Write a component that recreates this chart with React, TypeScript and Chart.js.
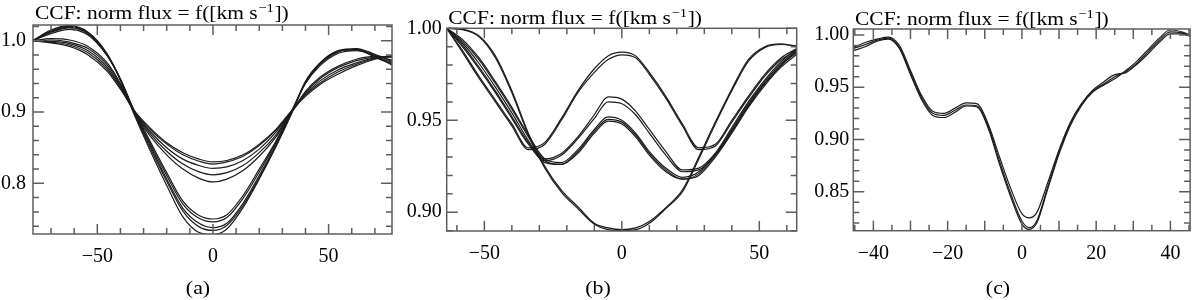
import { useEffect, useRef } from 'react';
import { Chart, registerables } from 'chart.js';

Chart.register(...registerables);

const SERIF = '"Liberation Serif", "Times New Roman", Times, serif';
const TITLE_MAIN = 'CCF: norm flux = f([km s';
const TITLE_SUP = '\u22121';
const TITLE_END = '])';

// ---------- Panel (a) ----------
const velA = [-78, -70, -62, -54, -46, -40, -34, -27, -20, -13, -6, 0, 6, 13, 20, 27, 34, 40, 46, 54, 62, 70, 78];
const a1 = [1.0, 1.01, 1.016, 1.008, 0.98, 0.946, 0.902, 0.858, 0.815, 0.775, 0.755, 0.75, 0.756, 0.783, 0.82, 0.858, 0.902, 0.94, 0.964, 0.982, 0.986, 0.98, 0.972];
const a2 = [1.0, 1.012, 1.018, 1.01, 0.981, 0.946, 0.9, 0.855, 0.811, 0.771, 0.751, 0.746, 0.752, 0.779, 0.816, 0.856, 0.9, 0.941, 0.966, 0.984, 0.988, 0.979, 0.968];
const a3 = [1.0, 1.014, 1.02, 1.011, 0.982, 0.946, 0.899, 0.852, 0.806, 0.765, 0.744, 0.738, 0.744, 0.772, 0.811, 0.853, 0.899, 0.941, 0.967, 0.985, 0.988, 0.978, 0.965];
const a4 = [1.0, 1.013, 1.019, 1.01, 0.981, 0.945, 0.898, 0.849, 0.803, 0.761, 0.739, 0.734, 0.741, 0.769, 0.808, 0.851, 0.899, 0.943, 0.968, 0.986, 0.989, 0.981, 0.97];
const a5 = [1.0, 1.015, 1.021, 1.012, 0.983, 0.945, 0.896, 0.845, 0.797, 0.753, 0.731, 0.728, 0.736, 0.766, 0.806, 0.85, 0.898, 0.942, 0.967, 0.985, 0.987, 0.977, 0.966];
const a6 = [1.0, 0.997, 0.992, 0.98, 0.958, 0.932, 0.902, 0.877, 0.857, 0.843, 0.834, 0.83, 0.832, 0.84, 0.855, 0.875, 0.902, 0.922, 0.938, 0.953, 0.965, 0.974, 0.979];
const a7 = [1.0, 0.998, 0.994, 0.983, 0.961, 0.934, 0.901, 0.875, 0.855, 0.84, 0.831, 0.827, 0.83, 0.838, 0.853, 0.874, 0.901, 0.924, 0.94, 0.956, 0.967, 0.975, 0.978];
const a8 = [1.0, 0.999, 0.996, 0.986, 0.964, 0.936, 0.9, 0.872, 0.85, 0.834, 0.825, 0.821, 0.823, 0.832, 0.848, 0.871, 0.9, 0.925, 0.943, 0.959, 0.969, 0.976, 0.979];
const a9 = [1.0, 1.001, 0.998, 0.989, 0.967, 0.938, 0.9, 0.869, 0.845, 0.827, 0.816, 0.812, 0.815, 0.825, 0.843, 0.867, 0.9, 0.927, 0.946, 0.962, 0.972, 0.977, 0.978];
const a10 = [1.0, 1.003, 1.001, 0.992, 0.97, 0.94, 0.899, 0.866, 0.84, 0.82, 0.807, 0.802, 0.806, 0.818, 0.838, 0.864, 0.9, 0.929, 0.948, 0.964, 0.974, 0.978, 0.977];
const ticksXA = [-70, -60, -50, -40, -30, -20, -10, 0, 10, 20, 30, 40, 50, 60, 70];
const majorXA = [-50, 0, 50];
const labelXA = [-50, 0, 50];
const ticksYA = [0.74, 0.76, 0.78, 0.8, 0.82, 0.84, 0.86, 0.88, 0.9, 0.92, 0.94, 0.96, 0.98, 1.0, 1.02];
const majorYA = [0.8, 0.9, 1.0];
const labelYA = [0.8, 0.9, 1.0];

// ---------- Panel (b) ----------
const velB = [-63.7, -58, -52, -46, -40, -34, -28, -22, -16, -10, -5, 0, 5, 10, 16, 22, 28, 34, 40, 46, 52, 58, 63.7];
const b1 = [1.0, 0.9995, 0.996, 0.985, 0.966, 0.943, 0.925, 0.912, 0.903, 0.894, 0.8915, 0.8905, 0.8915, 0.895, 0.9025, 0.912, 0.93, 0.949, 0.967, 0.983, 0.99, 0.9915, 0.99];
const b2 = [1.0, 0.9993, 0.9955, 0.984, 0.965, 0.942, 0.924, 0.911, 0.902, 0.8935, 0.8905, 0.89, 0.8905, 0.894, 0.902, 0.911, 0.929, 0.948, 0.966, 0.982, 0.9895, 0.9912, 0.9905];
const b3 = [1.0, 0.988, 0.974, 0.961, 0.948, 0.935, 0.938, 0.951, 0.966, 0.978, 0.985, 0.987, 0.985, 0.976, 0.963, 0.948, 0.935, 0.937, 0.95, 0.963, 0.975, 0.984, 0.989];
const b4 = [1.0, 0.987, 0.973, 0.96, 0.947, 0.934, 0.937, 0.95, 0.965, 0.976, 0.983, 0.9856, 0.984, 0.975, 0.962, 0.947, 0.934, 0.936, 0.949, 0.962, 0.974, 0.983, 0.988];
const b5 = [1.0, 0.991, 0.979, 0.966, 0.952, 0.938, 0.929, 0.932, 0.941, 0.953, 0.9627, 0.9615, 0.955, 0.945, 0.933, 0.923, 0.924, 0.932, 0.945, 0.959, 0.971, 0.981, 0.988];
const b6 = [1.0, 0.99, 0.978, 0.965, 0.951, 0.937, 0.928, 0.931, 0.94, 0.951, 0.96, 0.959, 0.953, 0.943, 0.931, 0.922, 0.923, 0.931, 0.944, 0.958, 0.97, 0.98, 0.987];
const b7 = [1.0, 0.994, 0.984, 0.971, 0.957, 0.942, 0.929, 0.927, 0.934, 0.945, 0.9518, 0.95, 0.943, 0.933, 0.924, 0.919, 0.922, 0.932, 0.946, 0.96, 0.972, 0.982, 0.989];
const b8 = [1.0, 0.993, 0.983, 0.97, 0.956, 0.941, 0.928, 0.926, 0.933, 0.944, 0.9505, 0.949, 0.942, 0.932, 0.923, 0.918, 0.921, 0.931, 0.944, 0.958, 0.97, 0.98, 0.988];
const b9 = [1.0, 0.992, 0.981, 0.968, 0.954, 0.939, 0.927, 0.926, 0.932, 0.943, 0.9495, 0.948, 0.941, 0.931, 0.922, 0.918, 0.92, 0.93, 0.943, 0.957, 0.969, 0.979, 0.986];
const ticksXB = [-60, -50, -40, -30, -20, -10, 0, 10, 20, 30, 40, 50, 60];
const majorXB = [-50, 0, 50];
const labelXB = [-50, 0, 50];
const ticksYB = [0.89, 0.9, 0.91, 0.92, 0.93, 0.94, 0.95, 0.96, 0.97, 0.98, 0.99, 1.0];
const majorYB = [0.9, 0.95, 1.0];
const labelYB = [0.9, 0.95, 1.0];

// ---------- Panel (c) ----------
const velC = [-45.4, -42, -39, -36, -33, -30, -27, -24, -21, -18, -15, -12, -9, -6, -3, 0, 2, 4, 7, 10, 13, 16, 19, 22, 25, 28, 31, 34, 37, 40, 43, 45.3];
const c1 = [0.987, 0.991, 0.995, 0.997, 0.988, 0.964, 0.94, 0.925, 0.923, 0.928, 0.933, 0.932, 0.912, 0.879, 0.848, 0.822, 0.8156, 0.822, 0.855, 0.888, 0.915, 0.933, 0.946, 0.953, 0.96, 0.965, 0.973, 0.984, 0.995, 1.003, 1.002, 0.999];
const c2 = [0.985, 0.989, 0.994, 0.996, 0.987, 0.962, 0.938, 0.923, 0.921, 0.926, 0.932, 0.931, 0.91, 0.876, 0.845, 0.819, 0.814, 0.82, 0.853, 0.886, 0.913, 0.932, 0.945, 0.952, 0.958, 0.966, 0.975, 0.986, 0.997, 1.005, 1.003, 1.0];
const c3 = [0.988, 0.993, 0.996, 0.998, 0.99, 0.966, 0.942, 0.927, 0.925, 0.93, 0.935, 0.934, 0.914, 0.883, 0.853, 0.829, 0.825, 0.83, 0.859, 0.89, 0.916, 0.934, 0.947, 0.955, 0.962, 0.964, 0.972, 0.982, 0.993, 1.001, 1.001, 0.999];
const ticksXC = [-45, -40, -35, -30, -25, -20, -15, -10, -5, 0, 5, 10, 15, 20, 25, 30, 35, 40, 45];
const majorXC = [-40, -30, -20, -10, 0, 10, 20, 30, 40];
const labelXC = [-40, -20, 0, 20, 40];
const ticksYC = [0.82, 0.83, 0.84, 0.85, 0.86, 0.87, 0.88, 0.89, 0.9, 0.91, 0.92, 0.93, 0.94, 0.95, 0.96, 0.97, 0.98, 0.99, 1.0];
const majorYC = [0.85, 0.9, 0.95, 1.0];
const labelYC = [0.85, 0.9, 0.95, 1.0];

type PanelCfg = {
  left: number;
  caption: string;
  vel: number[];
  series: number[][];
  xMin: number; xMax: number; yMin: number; yMax: number;
  xTicks: number[]; xMajor: number[]; xLabels: number[];
  yTicks: number[]; yMajor: number[]; yLabels: number[];
  yDecimals: number;
  axisW: number; axisH: number; padTop: number; padRight: number;
  yPad: number; xPad: number;
  titleX: number; titleY: number;
};

const panels: PanelCfg[] = [
  {
    left: 0, caption: '(a)', vel: velA, series: [a1, a2, a3, a4, a5, a6, a7, a8, a9, a10],
    xMin: -77.8, xMax: 77.4, yMin: 0.729, yMax: 1.022,
    xTicks: ticksXA, xMajor: majorXA, xLabels: labelXA,
    yTicks: ticksYA, yMajor: majorYA, yLabels: labelYA, yDecimals: 1,
    axisW: 33, axisH: 66, padTop: 25, padRight: 8, yPad: 7, xPad: 11,
    titleX: 35, titleY: 18.5,
  },
  {
    left: 400, caption: '(b)', vel: velB, series: [b1, b2, b3, b4, b5, b6, b7, b8, b9],
    xMin: -63.7, xMax: 63.6, yMin: 0.8898, yMax: 1.0,
    xTicks: ticksXB, xMajor: majorXB, xLabels: labelXB,
    yTicks: ticksYB, yMajor: majorYB, yLabels: labelYB, yDecimals: 2,
    axisW: 46.7, axisH: 69, padTop: 28.3, padRight: 3.3, yPad: 5, xPad: 11,
    titleX: 48.3, titleY: 24,
  },
  {
    left: 800, caption: '(c)', vel: velC, series: [c1, c2, c3],
    xMin: -45.4, xMax: 45.3, yMin: 0.8127, yMax: 1.0057,
    xTicks: ticksXC, xMajor: majorXC, xLabels: labelXC,
    yTicks: ticksYC, yMajor: majorYC, yLabels: labelYC, yDecimals: 2,
    axisW: 53.3, axisH: 69.3, padTop: 29, padRight: 1.7, yPad: 4, xPad: 11,
    titleX: 55, titleY: 25,
  },
];

const has = (list: number[], v: number) => list.some((m) => Math.abs(m - v) < 1e-7);
const fmtX = (v: number) => (v === 0 ? '0' : v < 0 ? '\u2212' + Math.abs(v) : String(v));

function Panel({ cfg }: { cfg: PanelCfg }) {
  const ref = useRef<HTMLCanvasElement | null>(null);
  useEffect(() => {
    if (!ref.current) return;
    const decor = {
      id: 'decor',
      afterDraw(chart: any) {
        const { ctx, chartArea: ca, scales } = chart;
        ctx.save();
        ctx.strokeStyle = '#5e5e5e';
        ctx.lineWidth = 1.5;
        ctx.beginPath();
        for (const t of scales.x.ticks) {
          const px = scales.x.getPixelForValue(t.value);
          const len = has(cfg.xMajor, t.value) ? 10 : 6;
          ctx.moveTo(px, ca.bottom);
          ctx.lineTo(px, ca.bottom - len);
          ctx.moveTo(px, ca.top);
          ctx.lineTo(px, ca.top + len);
        }
        for (const t of scales.y.ticks) {
          const py = scales.y.getPixelForValue(t.value);
          const len = has(cfg.yMajor, t.value) ? 11 : 6;
          ctx.moveTo(ca.left, py);
          ctx.lineTo(ca.left + len, py);
          ctx.moveTo(ca.right, py);
          ctx.lineTo(ca.right - len, py);
        }
        ctx.stroke();
        ctx.strokeRect(ca.left, ca.top, ca.right - ca.left, ca.bottom - ca.top);
        ctx.restore();

        // title with superscript
        ctx.save();
        ctx.fillStyle = '#000';
        ctx.textAlign = 'left';
        ctx.textBaseline = 'alphabetic';
        ctx.translate(cfg.titleX, cfg.titleY);
        ctx.scale(1.13, 1);
        ctx.font = `19px ${SERIF}`;
        ctx.fillText(TITLE_MAIN, 0, 0);
        let w = ctx.measureText(TITLE_MAIN).width + 0.5;
        ctx.font = `13px ${SERIF}`;
        ctx.fillText(TITLE_SUP, w, -7);
        w += ctx.measureText(TITLE_SUP).width + 0.5;
        ctx.font = `19px ${SERIF}`;
        ctx.fillText(TITLE_END, w, 0);
        ctx.restore();

        // caption
        ctx.save();
        ctx.fillStyle = '#000';
        ctx.textAlign = 'center';
        ctx.textBaseline = 'alphabetic';
        ctx.translate(chart.width / 2 - 2, 294);
        ctx.scale(1.15, 1);
        ctx.font = `19px ${SERIF}`;
        ctx.fillText(cfg.caption, 0, 0);
        ctx.restore();
      },
    };

    const chart = new Chart(ref.current, {
      type: 'line',
      data: {
        datasets: cfg.series.map((s) => ({
          data: cfg.vel.map((x, i) => ({ x, y: s[i] })),
          borderColor: '#1c1c1c',
          borderWidth: 1.2,
          pointRadius: 0,
          fill: false,
          cubicInterpolationMode: 'monotone' as const,
        })),
      },
      options: {
        animation: false,
        responsive: false,
        maintainAspectRatio: false,
        events: [],
        layout: { padding: { top: cfg.padTop, right: cfg.padRight, left: 0, bottom: 0 } },
        plugins: { legend: { display: false }, tooltip: { enabled: false }, title: { display: false } },
        scales: {
          x: {
            type: 'linear',
            min: cfg.xMin,
            max: cfg.xMax,
            grid: { display: false, drawTicks: false },
            border: { display: false },
            afterBuildTicks: (scale: any) => {
              scale.ticks = cfg.xTicks.map((v) => ({ value: v }));
            },
            afterFit: (scale: any) => {
              scale.height = cfg.axisH;
            },
            ticks: {
              autoSkip: false,
              maxRotation: 0,
              minRotation: 0,
              padding: cfg.xPad,
              color: '#000',
              font: { family: SERIF, size: 20 },
              callback: (v: any) => (has(cfg.xLabels, Number(v)) ? fmtX(Number(v)) : ''),
            },
          },
          y: {
            type: 'linear',
            min: cfg.yMin,
            max: cfg.yMax,
            grid: { display: false, drawTicks: false },
            border: { display: false },
            afterBuildTicks: (scale: any) => {
              scale.ticks = cfg.yTicks.map((v) => ({ value: v }));
            },
            afterFit: (scale: any) => {
              scale.width = cfg.axisW;
            },
            ticks: {
              autoSkip: false,
              padding: cfg.yPad,
              color: '#000',
              font: { family: SERIF, size: 20 },
              callback: (v: any) => (has(cfg.yLabels, Number(v)) ? Number(v).toFixed(cfg.yDecimals) : ''),
            },
          },
        },
      },
      plugins: [decor],
    });
    return () => chart.destroy();
  }, [cfg]);
  return (
    <canvas
      ref={ref}
      width={400}
      height={300}
      style={{ position: 'absolute', left: cfg.left, top: 0, width: 400, height: 300 }}
    />
  );
}

export default function App() {
  return (
    <div style={{ position: 'absolute', left: 0, top: 0, width: 1200, height: 300, background: '#fff' }}>
      {panels.map((p) => (
        <Panel key={p.caption} cfg={p} />
      ))}
    </div>
  );
}
